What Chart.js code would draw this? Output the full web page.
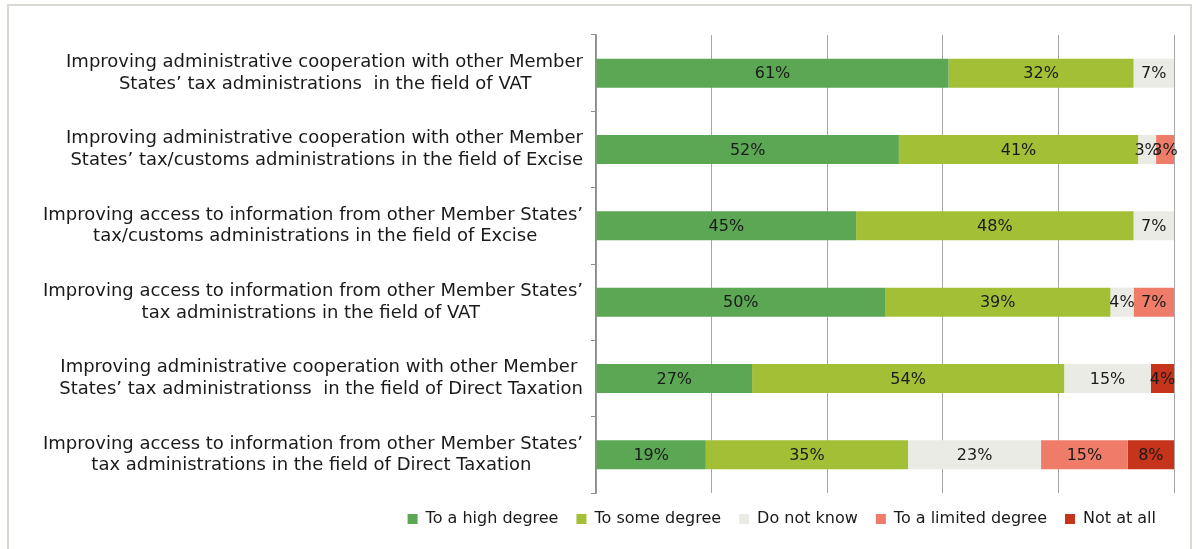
<!DOCTYPE html>
<html><head><meta charset="utf-8">
<script src="https://cdn.jsdelivr.net/npm/chart.js@4"></script>
<style>
html,body{margin:0;padding:0;background:#fff;}
#wrap{position:relative;width:1196px;height:549px;overflow:hidden;}
#frame{position:absolute;left:7px;top:4px;width:1185px;height:580px;border:2px solid #d9d9d1;border-bottom:none;box-sizing:border-box;pointer-events:none;}
canvas{position:absolute;left:0;top:0;}
</style></head><body>
<div id="wrap"><canvas id="c" width="1196" height="549"></canvas><div id="frame"></div></div>
<script>
const categories = [
  ["Improving administrative cooperation with other Member", "States\u2019 tax administrations  in the field of VAT"],
  ["Improving administrative cooperation with other Member", "States\u2019 tax/customs administrations in the field of Excise"],
  ["Improving access to information from other Member States\u2019", "tax/customs administrations in the field of Excise"],
  ["Improving access to information from other Member States\u2019", "tax administrations in the field of VAT"],
  ["Improving administrative cooperation with other Member", "States\u2019 tax administrationss  in the field of Direct Taxation"],
  ["Improving access to information from other Member States\u2019", "tax administrations in the field of Direct Taxation"]
];
const seriesNames = ["To a high degree", "To some degree", "Do not know", "To a limited degree", "Not at all"];
const highDegree    = [61, 52.4, 45, 50, 27, 19];
const someDegree    = [32, 41.4, 48, 39, 54, 35];
const doNotKnow     = [7, 3.1, 7, 4, 15, 23];
const limitedDegree = [0, 3.1, 0, 7, 0, 15];
const notAtAll      = [0, 0, 0, 0, 4, 8];
const seriesColors  = ["#5ba753", "#a2bf36", "#ebebe6", "#ee7c68", "#c5341b"];

Chart.defaults.font.family = "'DejaVu Sans', sans-serif";

// center each label's lines on each other (Excel style) while right-aligned
const mctx = document.createElement('canvas').getContext('2d');
mctx.font = "18px 'DejaVu Sans'";
const spaceW = mctx.measureText(' ').width;
const yLabels = categories.map(lines => {
  const ws = lines.map(l => mctx.measureText(l).width);
  const mx = Math.max(...ws);
  return lines.map((l, k) => l + ' '.repeat(Math.round((mx - ws[k]) / 2 / spaceW)));
});

const seriesData = [highDegree, someDegree, doNotKnow, limitedDegree, notAtAll];

const valueLabels = {
  id: 'valueLabels',
  afterDatasetsDraw(chart) {
    const ctx = chart.ctx;
    ctx.save();
    ctx.font = "16px 'DejaVu Sans'";
    ctx.fillStyle = '#1a1a1a';
    ctx.textAlign = 'center';
    ctx.textBaseline = 'middle';
    chart.data.datasets.forEach((ds, i) => {
      chart.getDatasetMeta(i).data.forEach((el, j) => {
        const v = ds.data[j];
        if (!v) return;
        const p = el.getCenterPoint();
        ctx.fillText(Math.round(v) + '%', p.x, p.y + 1);
      });
    });
    ctx.restore();
  }
};

new Chart(document.getElementById('c'), {
  type: 'bar',
  data: {
    labels: yLabels,
    datasets: seriesNames.map((n, i) => ({
      label: n,
      data: seriesData[i],
      backgroundColor: seriesColors[i],
      borderWidth: 0,
      barPercentage: 0.38,
      categoryPercentage: 1
    }))
  },
  options: {
    indexAxis: 'y',
    responsive: false,
    animation: false,
    layout: { padding: { left: 0, right: 22, top: 35, bottom: 12 } },
    scales: {
      x: {
        stacked: true, min: 0, max: 100,
        ticks: { display: false, stepSize: 20 },
        grid: { color: '#a6a6a6', lineWidth: 1, drawTicks: false },
        border: { display: false }
      },
      y: {
        stacked: true,
        offset: true,
        grid: { offset: true, drawOnChartArea: false, drawTicks: true, tickLength: 5, color: '#8c8c8c' },
        border: { display: true, color: '#8c8c8c', width: 1.5 },
        ticks: { font: { size: 18 }, color: '#1a1a1a', padding: 8, autoSkip: false },
        afterFit: (s) => { s.width = 596; }
      }
    },
    plugins: {
      legend: {
        position: 'bottom', align: 'end',
        labels: { boxWidth: 10, boxHeight: 10, padding: 18, font: { size: 16 }, color: '#1a1a1a' }
      },
      tooltip: { enabled: false }
    }
  },
  plugins: [valueLabels]
});
</script>
</body></html>
